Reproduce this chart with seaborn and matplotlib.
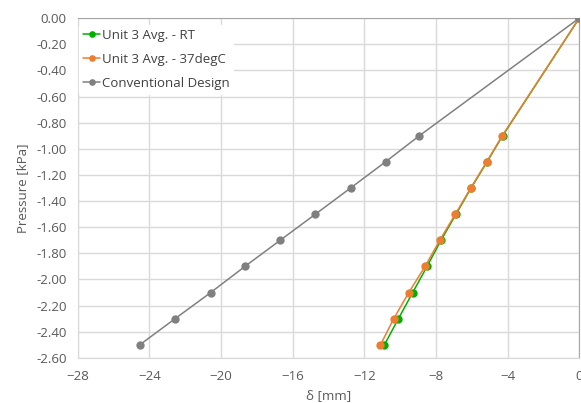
import numpy as np
import pandas as pd
import seaborn as sns
import matplotlib.pyplot as plt

# pressure steps [kPa]
pressure = [0.0, -0.9, -1.1, -1.3, -1.5, -1.7, -1.9, -2.1, -2.3, -2.5]

# deflection [mm]
delta_rt = [0.0, -4.28, -5.15, -6.04, -6.88, -7.72, -8.50, -9.30, -10.10, -10.88]
delta_37 = [0.0, -4.30, -5.17, -6.06, -6.92, -7.79, -8.61, -9.52, -10.36, -11.10]
delta_conv = [0.0, -8.93, -10.82, -12.77, -14.73, -16.70, -18.67, -20.58, -22.57, -24.54]

labels = ["Unit 3 Avg. - RT", "Unit 3 Avg. - 37degC", "Conventional Design"]
colors = ["#00B000", "#ED7D31", "#808080"]

df = pd.concat([
    pd.DataFrame({"delta": delta_rt, "pressure": pressure, "series": labels[0]}),
    pd.DataFrame({"delta": delta_37, "pressure": pressure, "series": labels[1]}),
    pd.DataFrame({"delta": delta_conv, "pressure": pressure, "series": labels[2]}),
])

sns.set_style("white")
plt.rcParams["font.family"] = ["Open Sans", "DejaVu Sans"]

fig = plt.figure(figsize=(5.81, 4.03), dpi=100)
ax = fig.add_axes([0.134, 0.112, 0.863, 0.843])

for lab, col in zip(labels, colors):
    sub = df[df["series"] == lab]
    sns.lineplot(data=sub, x="delta", y="pressure", color=col, marker="o",
                 markersize=6, markeredgewidth=0, linewidth=1.1, sort=False,
                 label=lab, ax=ax, zorder=3)

yt = np.arange(-2.6, 0.01, 0.2)
ax.set_xlim(-28, 0)
ax.set_ylim(-2.6, 0)
ax.set_xticks(np.arange(-28, 1, 4))
ax.set_yticks(yt)
ax.set_yticklabels([f"{v:.2f}" if abs(v) > 1e-9 else "0.00" for v in yt])
ax.tick_params(axis="both", length=0, labelsize=9.5, colors="#595959")
ax.tick_params(axis="y", pad=8)
ax.tick_params(axis="x", pad=9)
ax.grid(True, color="#d9d9d9", linewidth=1)
ax.set_axisbelow(True)

for s in ["left", "bottom"]:
    ax.spines[s].set_color("#d9d9d9")
for s in ["top", "right"]:
    ax.spines[s].set_color("#a6a6a6")

ax.set_xlabel("δ [mm]", fontsize=9.5, color="#595959", labelpad=4)
ax.set_ylabel("Pressure [kPa]", fontsize=9.5, color="#595959", labelpad=5)

leg = ax.legend(loc="upper left", fontsize=9.5, frameon=True, handlelength=1.3,
                handletextpad=0.1, borderaxespad=0.1, borderpad=0.3,
                labelspacing=0.85, markerscale=0.8, bbox_to_anchor=(0.0, 0.985))
leg.get_frame().set_edgecolor("white")
leg.get_frame().set_facecolor("white")
leg.get_frame().set_alpha(1)
for t in leg.get_texts():
    t.set_color("#404040")

fig.savefig("out.png", dpi=100)
